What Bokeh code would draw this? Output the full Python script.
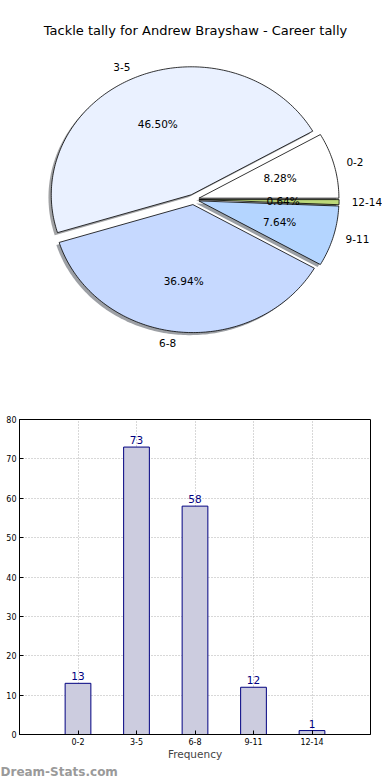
import numpy as np
from bokeh.plotting import figure
from bokeh.layouts import column, row
from bokeh.models import Range1d, Label, ColumnDataSource, FixedTicker, Title
from bokeh.core.properties import value
from bokeh.embed import file_html
from bokeh.resources import INLINE

# ---------------- data ----------------
title_text = "Tackle tally for Andrew Brayshaw - Career tally"
categories = ["0-2", "3-5", "6-8", "9-11", "12-14"]
counts = [13, 73, 58, 12, 1]
slice_colors = ["#ffffff", "#eaf1ff", "#c6d9ff", "#b4d5ff", "#bcd97a"]
explode = [0.04, 0.04, 0.04, 0.04, 0.04]
y_ticks = [0, 10, 20, 30, 40, 50, 60, 70, 80]
x_label = "Frequency"
watermark = "Dream-Stats.com"

FONT = "DejaVu Sans"
W = 382

# ---------------- pie ----------------
TOP_H = 392
RX, RY = 140.0, 128.0      # px per unit radius
CX, CY = 193.0, 199.0      # pie centre in figure px (from top-left)
LABEL_DIST = 1.09
PCT_DIST = 0.6

p1 = figure(width=W, height=TOP_H, output_backend="svg", toolbar_location=None,
            x_range=Range1d(-CX / RX, (W - CX) / RX),
            y_range=Range1d(-(TOP_H - CY) / RY, CY / RY),
            x_axis_location=None, y_axis_location=None,
            min_border_left=0, min_border_right=0,
            min_border_top=0, min_border_bottom=0)
p1.grid.visible = False
p1.outline_line_color = None

total = float(sum(counts))
frac = np.array(counts, dtype=float) / total
bounds = np.concatenate([[0.0], np.cumsum(frac)]) * 2 * np.pi

wx, wy, sx, sy, shadow_cols = [], [], [], [], []
lab_r = {"x": [], "y": [], "t": []}
lab_l = {"x": [], "y": [], "t": []}
pct = {"x": [], "y": [], "t": []}


def darken(hexcol, f=0.3):
    h = hexcol.lstrip("#")
    r, g, b = (int(h[i:i + 2], 16) for i in (0, 2, 4))
    return "#%02x%02x%02x" % (int(r * f), int(g * f), int(b * f))


for i, cat in enumerate(categories):
    a0, a1 = bounds[i], bounds[i + 1]
    mid = 0.5 * (a0 + a1)
    ox, oy = explode[i] * np.cos(mid), explode[i] * np.sin(mid)
    n = max(int(np.degrees(a1 - a0)) + 2, 3)
    t = np.linspace(a0, a1, n)
    px = np.concatenate([[ox], ox + np.cos(t)])
    py = np.concatenate([[oy], oy + np.sin(t)])
    wx.append(list(px))
    wy.append(list(py))
    sx.append(list(px - 0.02))
    sy.append(list(py - 0.02))
    shadow_cols.append(darken(slice_colors[i]))
    lx = ox + LABEL_DIST * np.cos(mid)
    ly = oy + LABEL_DIST * np.sin(mid)
    d = lab_l if lx > 0 else lab_r
    d["x"].append(lx)
    d["y"].append(ly)
    d["t"].append(cat)
    pct["x"].append(ox + PCT_DIST * np.cos(mid))
    pct["y"].append(oy + PCT_DIST * np.sin(mid))
    pct["t"].append("%.2f%%" % (100.0 * counts[i] / total))

p1.patches(xs=sx, ys=sy, fill_color=shadow_cols, fill_alpha=0.5, line_color=None)
p1.patches(xs=wx, ys=wy, fill_color=slice_colors, line_color="black", line_width=0.8)

for src, align in ((lab_l, "left"), (lab_r, "right"), (pct, "center")):
    p1.text(x="x", y="y", text="t", source=ColumnDataSource(src),
            text_align=align, text_baseline="middle",
            text_font=value(FONT), text_font_size="10.5px", text_color="black")

p1.add_layout(Label(x=(195 - CX) / RX, y=(CY - 30) / RY, text=title_text,
                    text_align="center", text_baseline="middle", text_font=FONT,
                    text_font_size="13px", text_color="black"))

# ---------------- bars ----------------
BOT_H = 386
xs = list(range(len(categories)))
p2 = figure(width=W, height=BOT_H, output_backend="svg", toolbar_location=None,
            x_range=Range1d(-1, len(categories)), y_range=Range1d(y_ticks[0], y_ticks[-1]),
            min_border_top=27, min_border_left=19, min_border_right=12,
            min_border_bottom=0)
p2.outline_line_color = "black"
p2.outline_line_width = 1

src2 = ColumnDataSource(dict(x=xs, top=counts, lab=[str(c) for c in counts]))
p2.vbar(x="x", top="top", width=0.44, bottom=0, source=src2,
        fill_color="#ccccdf", line_color="#000080", line_width=1)
p2.text(x="x", y="top", text="lab", source=src2, text_align="center",
        text_baseline="bottom", y_offset=-3, text_font=value(FONT),
        text_font_size="10.5px", text_color="#000080")

p2.xaxis.ticker = FixedTicker(ticks=xs)
p2.xaxis.major_label_overrides = {i: c for i, c in enumerate(categories)}
p2.yaxis.ticker = FixedTicker(ticks=y_ticks)
for ax in (p2.xaxis, p2.yaxis):
    ax.major_tick_in = 4
    ax.major_tick_out = 0
    ax.minor_tick_in = 0
    ax.minor_tick_out = 0
    ax.major_label_text_font = FONT
    ax.major_label_text_font_size = "8px"
    ax.major_label_text_color = "black"
    ax.axis_line_color = "black"
    ax.major_tick_line_color = "black"
    ax.major_label_standoff = 3
p2.xaxis.axis_label = x_label
p2.xaxis.axis_label_text_font = FONT
p2.xaxis.axis_label_text_font_size = "10.5px"
p2.xaxis.axis_label_text_font_style = "normal"
p2.xaxis.axis_label_standoff = 0

p2.grid.grid_line_color = "#b0b0b0"
p2.grid.grid_line_dash = "1 2"
p2.grid.grid_line_width = 1
p2.xgrid.ticker = FixedTicker(ticks=xs)
p2.ygrid.ticker = FixedTicker(ticks=y_ticks)

p2.add_layout(Title(text=watermark, align="left", offset=-19, standoff=0,
                    text_font=FONT, text_font_style="bold", text_font_size="12px",
                    text_color="#9a9a9a"), "below")

layout = column(row(p1), p2, spacing=0)
open("out.html", "w").write(file_html(layout, INLINE))
